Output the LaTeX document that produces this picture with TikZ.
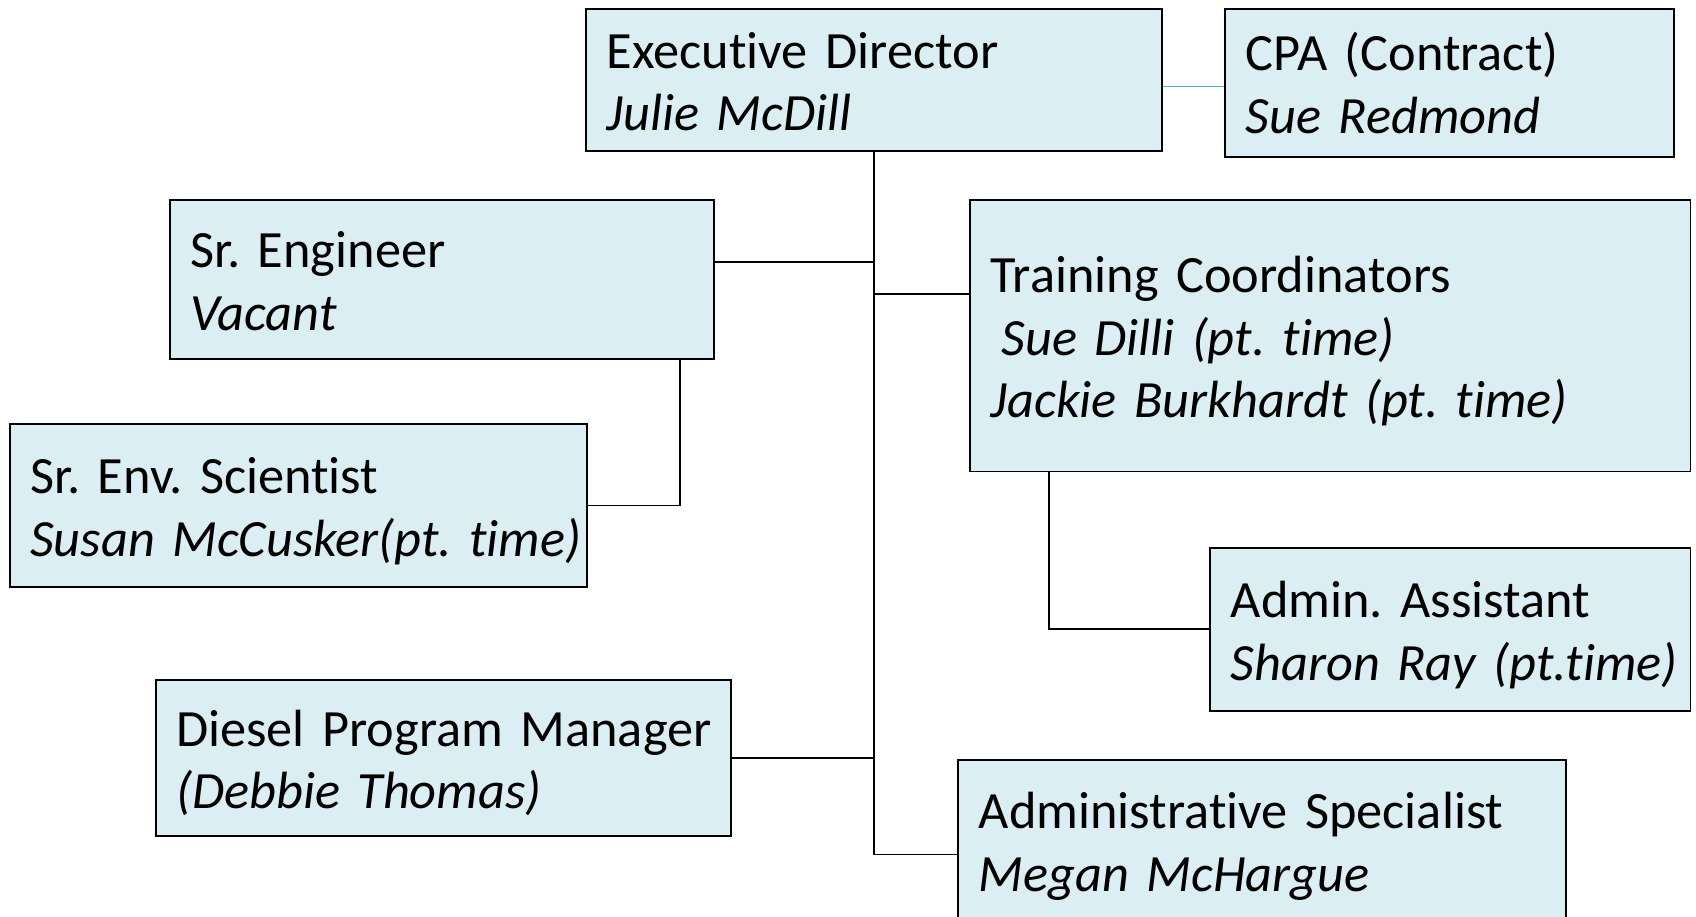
\documentclass[tikz,border=0pt]{standalone}
\usepackage{fontspec}
\setmainfont{Carlito}[Ligatures={NoCommon,NoRare}]
\usetikzlibrary{positioning,calc}
\definecolor{boxfill}{HTML}{DAEEF3}
\definecolor{cpablue}{HTML}{4BACC6}
\frenchspacing
\newcommand{\orgline}[1]{\mbox{\rule[-5.5pt]{0pt}{29pt}#1}}
\newcommand{\post}[2]{\orgline{#1}\\\orgline{\itshape #2}}
\tikzset{
  orgbox/.style={draw=black, line width=0.9pt, fill=boxfill, anchor=north west, inner xsep=9.5pt, inner ysep=0pt, align=left, font=\fontsize{24.2pt}{29pt}\selectfont},
  link/.style={draw=black, line width=0.85pt}
}
\begin{document}
\begin{tikzpicture}[x=0.5pt, y=-0.5pt]
  \clip (0,0) rectangle (1568,847);
  \fill[white] (0,0) rectangle (1568,847);
  \node[orgbox, minimum width=266pt, minimum height=66pt, text width=247pt] (ed) at (541,7) {\post{Executive Director}{Julie McDill}};
  \node[orgbox, minimum width=207.5pt, minimum height=68.5pt, text width=188.5pt] (cpa) at (1132,7) {\post{CPA (Contract)}{Sue Redmond}};
  \node[orgbox, minimum width=251.5pt, minimum height=73.5pt, text width=232.5pt] (eng) at (156,184) {\post{Sr. Engineer}{Vacant}};
  \node[orgbox, minimum width=333pt, minimum height=125.5pt, text width=314pt] (train) at (896,184)
    {\orgline{Training Coordinators}\\\orgline{\itshape\hspace*{5pt}Sue Dilli (pt.~time)}\\\orgline{\itshape Jackie Burkhardt (pt.~time)}};
  \node[orgbox, minimum width=267pt, minimum height=75.5pt, text width=248pt] (env) at (8,391) {\post{Sr. Env. Scientist}{Susan McCusker(pt.~time)}};
  \node[orgbox, minimum width=222pt, minimum height=75pt, text width=203pt] (asst) at (1118,506) {\post{Admin. Assistant}{Sharon Ray (pt.time)}};
  \node[orgbox, minimum width=266pt, minimum height=72pt, text width=247pt] (diesel) at (143,628) {\post{Diesel Program Manager}{(Debbie Thomas)}};
  \node[orgbox, minimum width=281pt, minimum height=74pt, text width=262pt] (spec) at (885,702) {\post{Administrative Specialist}{Megan McHargue}};

  \coordinate (c1) at ($(ed.north east)+(0,73)$);
  \draw[line width=0.85pt, cpablue] (c1) -- (c1 -| cpa.west);
  \coordinate (s1) at ($(spec.north west)+(0,88)$);
  \draw[link] (ed.south) -- (ed.south |- s1) -- (s1);
  \coordinate (e1) at ($(eng.north east)+(0,58)$);
  \draw[link] (e1) -- (e1 -| ed.south);
  \coordinate (t1) at ($(train.north west)+(0,88)$);
  \draw[link] (t1) -- (t1 -| ed.south);
  \draw[link] (diesel.east) -- (diesel.east -| ed.south);
  \draw[link] ($(eng.south west)+(473,0)$) |- (env.east);
  \draw[link] ($(train.south west)+(74,0)$) |- (asst.west);
\end{tikzpicture}
\end{document}
